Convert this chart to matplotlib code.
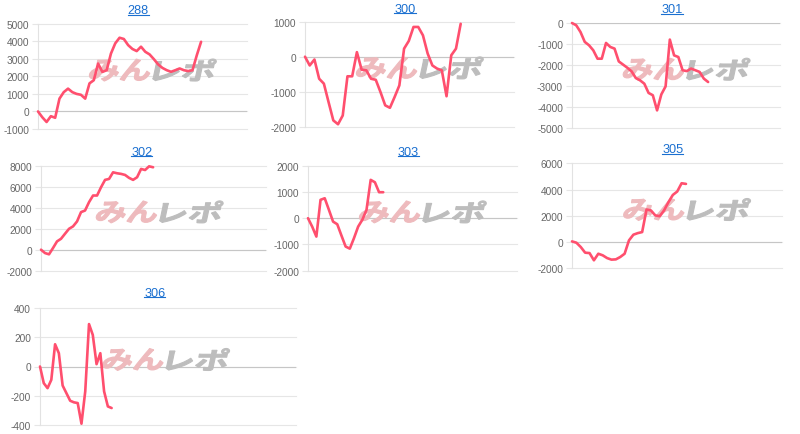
import matplotlib
matplotlib.use('Agg')
import matplotlib.pyplot as plt
import numpy as np
from matplotlib.textpath import TextPath
from matplotlib.patches import PathPatch
from matplotlib.font_manager import FontProperties
from matplotlib.transforms import Affine2D
from matplotlib.lines import Line2D

plt.rcParams['font.family'] = ['Liberation Sans', 'DejaVu Sans']
plt.rcParams['axes.unicode_minus'] = False

# ---------------- data ----------------
names = ['288', '300', '301', '302', '303', '305', '306']

s288 = [0, -330, -600, -270, -360, 730, 1100, 1300, 1100, 1000, 950, 730, 1600, 1780,
        2730, 2250, 2350, 3300, 3880, 4200, 4130, 3780, 3560, 3440, 3690, 3400, 3250,
        2980, 2680, 2480, 2350, 2260, 2350, 2450, 2350, 2300, 2350, 3200, 3970]
s300 = [0, -250, -80, -630, -770, -1300, -1820, -1930, -1680, -560, -560, 130, -370,
        -390, -630, -660, -1010, -1390, -1460, -1150, -820, 230, 450, 850, 850, 610,
        90, -250, -340, -390, -1130, 40, 230, 940]
s301 = [0, -110, -430, -900, -1060, -1300, -1700, -1700, -950, -1140, -1220, -1830,
        -1980, -2130, -2300, -2620, -2730, -2890, -3330, -3440, -4160, -3400, -3020,
        -790, -1540, -1620, -2250, -2290, -2170, -2250, -2330, -2650, -2810]
s302 = [0, -320, -440, 160, 790, 1040, 1520, 1990, 2220, 2690, 3580, 3730, 4530, 5160,
        5160, 5950, 6650, 6740, 7370, 7280, 7220, 7120, 6840, 6650, 6900, 7690, 7590,
        7940, 7850]
s303 = [0, -320, -700, 700, 760, 320, -130, -230, -660, -1080, -1160, -760, -320, -60,
        320, 1460, 1370, 990, 990]
s305 = [50, -50, -380, -810, -840, -1390, -890, -1010, -1220, -1340, -1320, -1140, -890,
        130, 560, 680, 760, 2480, 2410, 2030, 1970, 2410, 3040, 3590, 3850, 4480, 4430]
s306 = [0, -114, -148, -91, 152, 91, -130, -182, -234, -245, -250, -391, -170, 290, 216,
        16, 91, -170, -273, -284]

series = {'288': s288, '300': s300, '301': s301, '302': s302,
          '303': s303, '305': s305, '306': s306}

ticks288 = [-1000, 0, 1000, 2000, 3000, 4000, 5000]
ticks300 = [-2000, -1000, 0, 1000]
ticks301 = [-5000, -4000, -3000, -2000, -1000, 0]
ticks302 = [-2000, 0, 2000, 4000, 6000, 8000]
ticks303 = [-2000, -1000, 0, 1000, 2000]
ticks305 = [-2000, 0, 2000, 4000, 6000]
ticks306 = [-400, -200, 0, 200, 400]

yticks = {'288': ticks288, '300': ticks300, '301': ticks301, '302': ticks302,
          '303': ticks303, '305': ticks305, '306': ticks306}

# ---------------- layout (pixels) ----------------
W, H = 800, 435
rects = {  # left, top, right, bottom
    '288': (38, 24.7, 247, 130),
    '300': (305, 22.7, 514, 127.7),
    '301': (572, 24, 780, 129),
    '302': (41, 166.7, 266, 271.7),
    '303': (308, 166.7, 517, 271.7),
    '305': (572, 164.3, 782, 269.3),
    '306': (40, 309, 296, 426),
}
xspan = {'288': 48.7, '300': 44.3, '301': 48.9, '302': 56.2,
         '303': 50.0, '305': 47.9, '306': 67.9}
title_pos = {  # center x, baseline y
    '288': (138.3, 14.3), '300': (405, 12.6), '301': (672, 13.3),
    '302': (141.7, 155.7), '303': (408.3, 155.7), '305': (672.8, 153.3),
    '306': (154.8, 296.7),
}

LINE = '#ff4f6e'
BLUE = '#1a6fd0'
GRID = '#e6e6e6'
ZERO = '#c6c6c6'
PINK = '#eebabd'
GREY = '#bdbdbd'

fig = plt.figure(figsize=(W / 100, H / 100), dpi=100)
fig.patch.set_facecolor('white')

wm_font = FontProperties(family='Noto Sans CJK JP', weight='bold')


def watermark(ax, l, t, r, b):
    x0 = l + 0.24 * (r - l)
    yc = H - (t + 0.44 * (b - t))
    h = 22
    for s, col, dx, w in (('みん', PINK, 0, 60), ('レポ', GREY, 64, 60)):
        p = TextPath((0, 0), s, size=50, prop=wm_font)
        e = p.get_extents()
        tr = (Affine2D().translate(-e.x0, -e.y0)
              .scale(w / e.width, h / e.height)
              .skew_deg(12, 0)
              .translate(x0 + dx, yc - h / 2))
        ax.add_patch(PathPatch(p, transform=tr, fc=col, ec=col, lw=0.8, zorder=2))


titles = {}
for name in names:
    vals = series[name]
    tk = yticks[name]
    l, t, r, b = rects[name]
    ax = fig.add_axes([l / W, 1 - b / H, (r - l) / W, (b - t) / H])
    x = np.arange(len(vals))
    ax.plot(x, vals, color=LINE, lw=1.9, zorder=3, solid_joinstyle='round',
            solid_capstyle='round', clip_on=False)
    ax.set_xlim(0, xspan[name])
    ax.set_ylim(tk[0], tk[-1])
    ax.set_xticks([])
    ax.set_yticks(tk)
    ax.set_yticklabels([str(v) for v in tk])
    ax.yaxis.grid(True, color=GRID, lw=0.8)
    for gl in ax.get_ygridlines():
        gl.set_clip_on(False)
    ax.axhline(0, color=ZERO, lw=0.8, zorder=1.6)
    for sp in ('top', 'right', 'bottom'):
        ax.spines[sp].set_visible(False)
    ax.spines['left'].set_color('#e2e2e2')
    ax.spines['left'].set_linewidth(0.8)
    ax.tick_params(axis='y', length=4.3, width=0.8, color=GRID, pad=2.2,
                   labelsize=7.3, labelcolor='#666666')
    ax.set_facecolor('none')
    watermark(ax, l, t, r, b)
    cx, by = title_pos[name]
    titles[name] = fig.text(cx / W, 1 - by / H, name, ha='center', va='baseline',
                            fontsize=9.2, color=BLUE)

fig.canvas.draw()
for name, txt in titles.items():
    bb = txt.get_window_extent()
    by = title_pos[name][1] + 1.4
    fig.add_artist(Line2D([bb.x0 / W, bb.x1 / W], [1 - by / H, 1 - by / H],
                          transform=fig.transFigure, color=BLUE, lw=0.8))

fig.savefig('out.png', dpi=100)
